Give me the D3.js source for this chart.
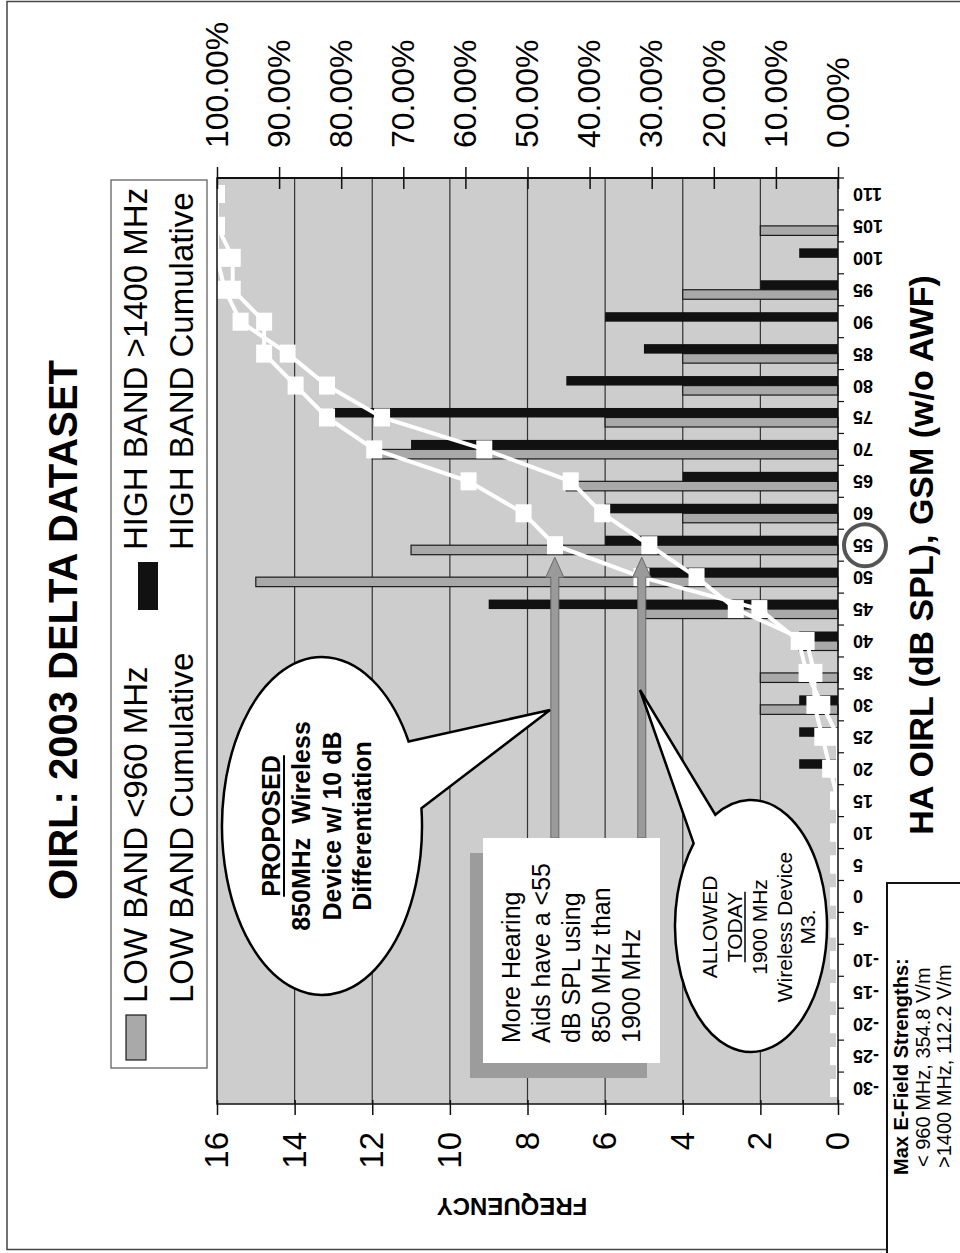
<!DOCTYPE html>
<html>
<head>
<meta charset="utf-8">
<script src="https://cdn.jsdelivr.net/npm/d3@7"></script>
<style>
  html, body { margin: 0; padding: 0; background: #fff; }
  svg { display: block; }
  text { font-family: "Liberation Sans", Arial, Helvetica, sans-serif; }
</style>
</head>
<body>
<script>
// ---------------- DATA ----------------
const categories = ["-30","-25","-20","-15","-10","-5","0","5","10","15","20","25","30","35","40","45","50","55","60","65","70","75","80","85","90","95","100","105","110"];
const lowBand  = [0,0,0,0,0,0,0,0,0,0,0,0,2,2,1,5,15,11,4,7,12,6,4,4,0,4,0,2,0];
const highBand = [0,0,0,0,0,0,0,0,0,0,1,1,1,0,1,9,5,6,6,4,11,13,7,5,6,2,1,0,0];
const lowCumulative  = [0,0,0,0,0,0,0,0,0,0,0,0,2.53,5.06,6.33,12.66,31.65,45.57,50.63,59.49,74.68,82.28,87.34,92.41,92.41,97.47,97.47,100,100];
const highCumulative = [0,0,0,0,0,0,0,0,0,0,1.27,2.53,3.80,3.80,5.06,16.46,22.78,30.38,37.97,43.04,56.96,73.42,82.28,88.61,96.20,98.73,100,100,100];
const freqTicks = [0,2,4,6,8,10,12,14,16];
const pctTicks = [0,10,20,30,40,50,60,70,80,90,100];
const arrowLevels = [45.6, 31.6];   // percent levels of the two annotation arrows
const arrowTarget = "55";

const W = 960, H = 1253;
const svg = d3.select("body").append("svg").attr("width", W).attr("height", H);
svg.append("rect").attr("width", W).attr("height", H).attr("fill", "#fff");
// page frame
svg.append("rect").attr("x", 7).attr("y", 1.5).attr("width", 1000).attr("height", 1248)
  .attr("fill", "none").attr("stroke", "#444").attr("stroke-width", 1.5);

// landscape chart, rotated 90deg counter-clockwise
const g = svg.append("g").attr("transform", `translate(0,${H}) rotate(-90)`);

const X0 = 149, X1 = 1075, Ytop = 217, Ybot = 838;
const x = d3.scaleBand().domain(categories).range([X0, X1]).paddingInner(0).paddingOuter(0);
const bw = x.bandwidth();
const yF = d3.scaleLinear().domain([0, 16]).range([Ybot, Ytop]);
const yP = d3.scaleLinear().domain([0, 100]).range([Ybot, Ytop]);
const cx = c => x(c) + bw / 2;

// plot background
g.append("rect").attr("x", X0).attr("y", Ytop).attr("width", X1 - X0).attr("height", Ybot - Ytop)
  .attr("fill", "#cdcdcd");

// gridlines
g.append("g").selectAll("line").data(freqTicks.filter(v => v > 0 && v < 16)).join("line")
  .attr("x1", X0).attr("x2", X1).attr("y1", d => yF(d)).attr("y2", d => yF(d))
  .attr("stroke", "#333").attr("stroke-width", 1.2);

// bars
const barW = 9.5;
g.append("g").selectAll("rect").data(categories.map((c, i) => ({c, v: lowBand[i]})).filter(d => d.v > 0)).join("rect")
  .attr("x", d => cx(d.c) - barW).attr("width", barW)
  .attr("y", d => yF(d.v)).attr("height", d => yF(0) - yF(d.v))
  .attr("fill", "#a9a9a9").attr("stroke", "#1a1a1a").attr("stroke-width", 1.2);
g.append("g").selectAll("rect").data(categories.map((c, i) => ({c, v: highBand[i]})).filter(d => d.v > 0)).join("rect")
  .attr("x", d => cx(d.c)).attr("width", barW)
  .attr("y", d => yF(d.v)).attr("height", d => yF(0) - yF(d.v))
  .attr("fill", "#111");

// cumulative lines (white)
const line = d3.line().x((d, i) => cx(categories[i])).y(d => yP(d));
[lowCumulative, highCumulative].forEach(series => {
  g.append("path").datum(series).attr("d", line)
    .attr("fill", "none").attr("stroke", "#fff").attr("stroke-width", 4);
  g.append("g").selectAll("rect").data(series).join("rect")
    .attr("x", (d, i) => cx(categories[i]) - 9).attr("y", d => yP(d) - 8)
    .attr("width", 18).attr("height", 16).attr("fill", "#fff");
});

// annotation arrows (horizontal in landscape), from text box to category 55
const arrowStart = 415, arrowTip = cx(arrowTarget) - 12;
arrowLevels.forEach(p => {
  const yy = yP(p);
  g.append("path")
    .attr("d", `M${arrowStart},${yy - 4} L${arrowTip - 20},${yy - 4} L${arrowTip - 20},${yy - 9} L${arrowTip},${yy} L${arrowTip - 20},${yy + 9} L${arrowTip - 20},${yy + 4} L${arrowStart},${yy + 4} Z`)
    .attr("fill", "#9a9a9a").attr("stroke", "#6a6a6a").attr("stroke-width", 1);
});

// speech-bubble callouts
function bubble(ecx, ecy, rx, ry, a1, a2, tip) {
  const P = a => [ecx + rx * Math.cos(a * Math.PI / 180), ecy + ry * Math.sin(a * Math.PI / 180)];
  const p1 = P(a1), p2 = P(a2);
  return `M${p2[0]},${p2[1]} L${tip[0]},${tip[1]} L${p1[0]},${p1[1]} A${rx},${ry} 0 1 ${a1 < a2 ? 0 : 1} ${p2[0]},${p2[1]} Z`;
}
// PROPOSED
g.append("path").attr("d", bubble(427, 322, 169, 100, 60, 84, [543, 550]))
  .attr("fill", "#fff").attr("stroke", "#000").attr("stroke-width", 2.5);
const propLines = [["PROPOSED", 280], ["850MHz\u00a0 Wireless", 310], ["Device w/ 10 dB", 341], ["Differentiation", 371]];
propLines.forEach(([t, yy], i) => {
  const tx = g.append("text").attr("x", 427).attr("y", yy).attr("text-anchor", "middle")
    .attr("font-size", 25).attr("font-weight", "bold").text(t);
  if (i === 0) {
    const L = tx.node().getComputedTextLength();
    g.append("line").attr("x1", 427 - L / 2).attr("x2", 427 + L / 2).attr("y1", yy + 4).attr("y2", yy + 4)
      .attr("stroke", "#000").attr("stroke-width", 2);
  }
});
// ALLOWED
g.append("path").attr("d", bubble(327, 751, 126, 76, -28, -49, [563, 640]))
  .attr("fill", "#fff").attr("stroke", "#000").attr("stroke-width", 2.5);
const allowLines = [["ALLOWED", 717], ["TODAY", 742], ["1900 MHz", 767], ["Wireless Device", 792], ["M3.", 815]];
allowLines.forEach(([t, yy], i) => {
  const tx = g.append("text").attr("x", 326).attr("y", yy).attr("text-anchor", "middle")
    .attr("font-size", 21).text(t);
  if (i === 1) {
    const L = tx.node().getComputedTextLength();
    g.append("line").attr("x1", 326 - L / 2).attr("x2", 326 + L / 2).attr("y1", yy + 3).attr("y2", yy + 3)
      .attr("stroke", "#000").attr("stroke-width", 1.5);
  }
});

// text box with shadow
g.append("rect").attr("x", 175).attr("y", 470).attr("width", 225).attr("height", 177).attr("fill", "#9c9c9c");
g.append("rect").attr("x", 190).attr("y", 483).attr("width", 225).attr("height", 177).attr("fill", "#fff");
["More Hearing", "Aids have a <55", "dB SPL using", "850 MHz than", "1900 MHz"].forEach((t, i) => {
  g.append("text").attr("x", 210).attr("y", 520 + i * 30).attr("font-size", 25).text(t);
});

// plot border / axis lines
g.append("rect").attr("x", X0).attr("y", Ytop).attr("width", X1 - X0).attr("height", Ybot - Ytop)
  .attr("fill", "none").attr("stroke", "#111").attr("stroke-width", 1.5);

// frequency axis (left in landscape)
const fAxis = g.append("g").attr("transform", `translate(${X0},0)`)
  .call(d3.axisLeft(yF).tickValues(freqTicks).tickSize(11).tickPadding(17));
fAxis.select(".domain").remove();
fAxis.selectAll("line").attr("x1", 4).attr("stroke", "#111").attr("stroke-width", 1.5);
fAxis.selectAll("text").attr("font-size", 33).attr("fill", "#000")
  .attr("font-family", "Liberation Sans, Arial, sans-serif");

// percent axis (right in landscape)
const pAxis = g.append("g").attr("transform", `translate(${X1},0)`)
  .call(d3.axisRight(yP).tickValues(pctTicks).tickFormat(d => d.toFixed(2) + "%").tickSize(11).tickPadding(19));
pAxis.select(".domain").remove();
pAxis.selectAll("line").attr("x1", -11).attr("stroke", "#111").attr("stroke-width", 1.5);
pAxis.selectAll("text").attr("font-size", 32).attr("fill", "#000")
  .attr("font-family", "Liberation Sans, Arial, sans-serif");
g.append("line").attr("x1", X1).attr("x2", X1).attr("y1", Ytop).attr("y2", Ybot)
  .attr("stroke", "#111").attr("stroke-width", 2);

// category axis (bottom in landscape)
g.append("g").selectAll("line").data(d3.range(categories.length + 1)).join("line")
  .attr("x1", i => X0 + i * bw).attr("x2", i => X0 + i * bw).attr("y1", Ybot).attr("y2", Ybot + 6)
  .attr("stroke", "#111").attr("stroke-width", 1.2);
g.append("g").selectAll("text").data(categories).join("text")
  .attr("transform", d => `translate(${cx(d)},853) rotate(-90)`)
  .attr("text-anchor", "end").attr("dominant-baseline", "central")
  .attr("font-size", 18).attr("font-weight", "bold").text(d => d);
g.append("circle").attr("cx", cx("55")).attr("cy", 865).attr("r", 21)
  .attr("fill", "none").attr("stroke", "#555").attr("stroke-width", 4);

// axis titles
g.append("text").attr("x", 698).attr("y", 933).attr("text-anchor", "middle")
  .attr("font-size", 34).attr("font-weight", "bold").text("HA OIRL (dB SPL), GSM (w/o AWF)");
g.append("text").attr("transform", "translate(47,512) rotate(-90)").attr("text-anchor", "middle")
  .attr("dominant-baseline", "central").attr("font-size", 24).attr("font-weight", "bold").text("FREQUENCY");

// title
g.append("text").attr("x", 623).attr("y", 77).attr("text-anchor", "middle")
  .attr("font-size", 40).attr("font-weight", "bold").text("OIRL: 2003 DELTA DATASET");

// legend
g.append("rect").attr("x", 185).attr("y", 111).attr("width", 888).attr("height", 96)
  .attr("fill", "#fff").attr("stroke", "#555").attr("stroke-width", 1.2);
g.append("rect").attr("x", 193).attr("y", 126).attr("width", 45).attr("height", 20)
  .attr("fill", "#a9a9a9").attr("stroke", "#1a1a1a").attr("stroke-width", 1.2);
g.append("rect").attr("x", 643).attr("y", 138).attr("width", 48).attr("height", 20).attr("fill", "#111");
g.append("line").attr("x1", 193).attr("x2", 238).attr("y1", 182).attr("y2", 182).attr("stroke", "#fff").attr("stroke-width", 4);
g.append("line").attr("x1", 646).attr("x2", 691).attr("y1", 182).attr("y2", 182).attr("stroke", "#fff").attr("stroke-width", 4);
[["LOW BAND <960 MHz", 250, 147], ["HIGH BAND >1400 MHz", 703, 147],
 ["LOW BAND Cumulative", 250, 193], ["HIGH BAND Cumulative", 703, 193]].forEach(([t, xx, yy]) => {
  g.append("text").attr("x", xx).attr("y", yy).attr("font-size", 33).text(t);
});

// Max E-field box
g.append("rect").attr("x", -5).attr("y", 887).attr("width", 375).attr("height", 100)
  .attr("fill", "#fff").attr("stroke", "#111").attr("stroke-width", 2);
g.append("text").attr("x", 78).attr("y", 908).attr("font-size", 20).attr("font-weight", "bold").text("Max E-Field Strengths:");
g.append("text").attr("x", 86).attr("y", 930).attr("font-size", 20).text("< 960 MHz, 354.8 V/m");
g.append("text").attr("x", 85).attr("y", 951).attr("font-size", 20).text(">1400 MHz, 112.2 V/m");
</script>
</body>
</html>
